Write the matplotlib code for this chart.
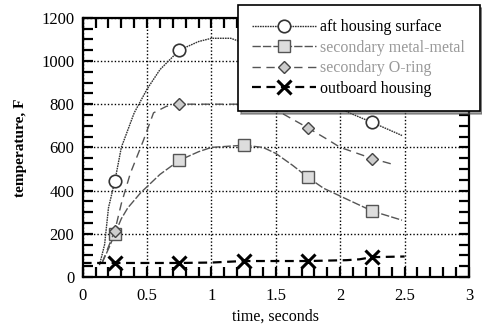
import numpy as np
import matplotlib.pyplot as plt
from matplotlib.ticker import MultipleLocator, FuncFormatter
from matplotlib.lines import Line2D

plt.rcParams['font.family'] = ['Liberation Serif', 'DejaVu Serif']

# aft housing surface
aft_t = [0.13, 0.17, 0.2, 0.25, 0.3, 0.4, 0.5, 0.6, 0.75, 0.9, 1.0, 1.15, 1.22, 1.5, 1.75, 2.07, 2.25, 2.48]
aft_T = [55, 150, 320, 445, 600, 760, 870, 960, 1050, 1090, 1105, 1105, 1090, 950, 860, 760, 715, 655]
aft_mt = [0.25, 0.75, 2.25]
aft_mT = [445, 1050, 718]

# secondary metal-metal
mm_t = [0.15, 0.2, 0.25, 0.3, 0.35, 0.45, 0.6, 0.75, 0.9, 1.0, 1.25, 1.4, 1.5, 1.63, 1.75, 1.87, 2.07, 2.25, 2.48]
mm_T = [65, 130, 200, 270, 320, 390, 475, 540, 580, 600, 610, 600, 572, 517, 461, 411, 355, 305, 263]
mm_mt = [0.25, 0.75, 1.25, 1.75, 2.25]
mm_mT = [200, 540, 610, 461, 305]

# secondary O-ring
or_t = [0.15, 0.2, 0.25, 0.3, 0.37, 0.47, 0.55, 0.65, 0.75, 1.0, 1.25, 1.4, 1.55, 1.75, 1.9, 2.0, 2.25, 2.43]
or_T = [65, 140, 215, 340, 480, 630, 760, 790, 800, 800, 800, 790, 757, 690, 637, 600, 548, 518]
or_mt = [0.25, 0.75, 1.75, 2.25]
or_mT = [215, 800, 690, 548]

# outboard housing
ob_t = [0.0, 0.25, 0.75, 1.0, 1.25, 1.75, 2.05, 2.15, 2.25, 2.5]
ob_T = [65, 65, 65, 67, 74, 74, 78, 82, 92, 95]
ob_mt = [0.25, 0.75, 1.25, 1.75, 2.25]
ob_mT = [65, 65, 74, 74, 92]

labels = ['aft housing surface', 'secondary metal-metal', 'secondary O-ring', 'outboard housing']

fig = plt.figure(figsize=(4.82, 3.29), dpi=100)
ax = fig.add_axes([0.1716, 0.158, 0.8014, 0.788])

sty1 = dict(color='#333333', lw=1.0, ls=(0, (1.2, 0.6)))
mk1 = dict(marker='o', ms=9, mfc='white', mec='#333333', mew=1.2)
sty2 = dict(color='#555555', lw=1.0, ls=(0, (6, 1.5)))
mk2 = dict(marker='s', ms=9, mfc='#dddddd', mec='#555555', mew=1.0)
sty3 = dict(color='#555555', lw=1.0, ls=(0, (6, 4)))
mk3 = dict(marker='D', ms=6.5, mfc='#cccccc', mec='#444444', mew=1.0)
sty4 = dict(color='black', lw=1.6, ls=(0, (4, 2.5)))
mk4 = dict(marker='x', ms=10, mec='black', mew=2.2)

ax.plot(aft_t, aft_T, **sty1)
ax.plot(aft_mt, aft_mT, ls='none', **mk1)
ax.plot(mm_t, mm_T, **sty2)
ax.plot(mm_mt, mm_mT, ls='none', **mk2)
ax.plot(or_t, or_T, **sty3)
ax.plot(or_mt, or_mT, ls='none', **mk3)
ax.plot(ob_t, ob_T, **sty4)
ax.plot(ob_mt, ob_mT, ls='none', **mk4)

ax.set_xlim(0, 3)
ax.set_ylim(0, 1200)
ax.xaxis.set_major_locator(MultipleLocator(0.5))
ax.xaxis.set_minor_locator(MultipleLocator(0.1))
ax.yaxis.set_major_locator(MultipleLocator(200))
ax.yaxis.set_minor_locator(MultipleLocator(50))
ax.xaxis.set_major_formatter(FuncFormatter(lambda v, p: '%g' % v))
ax.tick_params(which='both', direction='in', top=True, right=True, width=1.6, length=7, labelsize=12)
ax.tick_params(axis='x', pad=8)
ax.tick_params(axis='y', pad=6)
ax.grid(True, which='major', color='black', ls=(0, (1, 1.5)), lw=1.0)
for s in ax.spines.values():
    s.set_linewidth(1.6)

ax.set_xlabel('time, seconds', fontsize=11.5, labelpad=3)
ax.set_ylabel('temperature, F', fontsize=11, fontweight='bold', labelpad=10)

handles = [Line2D([], [], **sty1, **mk1), Line2D([], [], **sty2, **mk2),
           Line2D([], [], **sty3, **mk3), Line2D([], [], **sty4, **mk4)]
leg = ax.legend(handles, labels,
                loc='upper left', bbox_to_anchor=(238 / 482, 1 - 5 / 329), bbox_transform=fig.transFigure,
                borderaxespad=0, fontsize=11.5, handlelength=4.0, handletextpad=0.25, labelspacing=0.28,
                borderpad=0.9, fancybox=False, shadow=True, framealpha=1, edgecolor='black')
leg.get_frame().set_linewidth(1.2)
for txt, c in zip(leg.get_texts(), ['black', '#999999', '#999999', 'black']):
    txt.set_color(c)

fig.savefig('out.png', dpi=100)
